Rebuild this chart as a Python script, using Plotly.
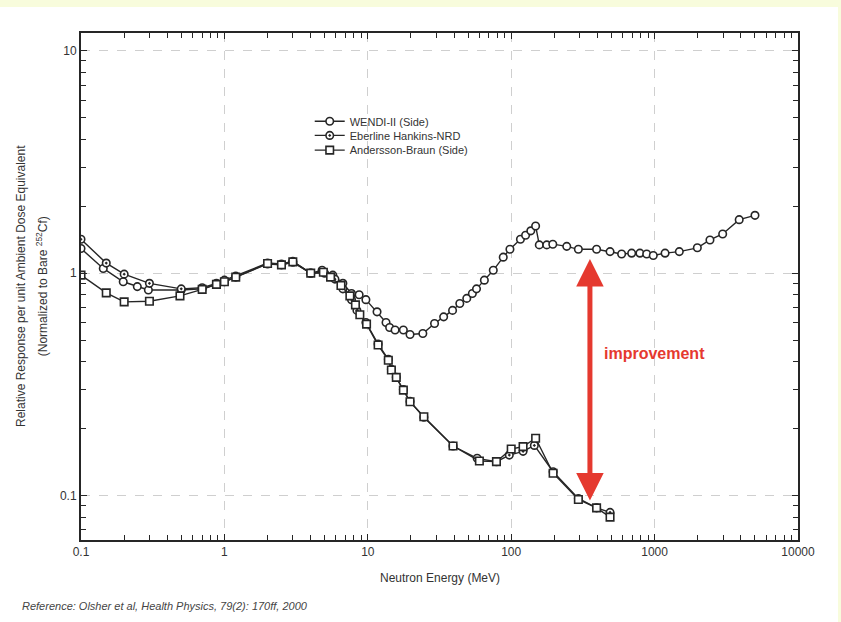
import math
import plotly.graph_objects as go

# Neutron energy (MeV) and relative response for each instrument
wendi_energy = [0.1, 0.143, 0.197, 0.247, 0.295, 0.5, 0.7, 0.88, 1.0, 1.2, 2.0, 2.5, 3.0,
                4.0, 4.8, 5.7, 6.7, 7.7, 8.7, 9.7, 11.6, 13.4, 14.2, 15.5, 17.7, 19.7,
                24.2, 29.2, 33.8, 39, 43.8, 49, 53.6, 57.3, 65, 75, 88, 98, 116, 126,
                137, 148, 157, 177, 195, 244, 294, 394, 489, 589, 692, 790, 881, 979,
                1183, 1487, 1986, 2432, 2983, 3890, 5012]
wendi_resp = [1.29, 1.05, 0.915, 0.87, 0.84, 0.84, 0.85, 0.89, 0.915, 0.96, 1.1, 1.09, 1.12,
              1.0, 1.03, 0.98, 0.90, 0.81, 0.80, 0.76, 0.67, 0.60, 0.57, 0.555, 0.555, 0.53,
              0.535, 0.594, 0.636, 0.68, 0.73, 0.77, 0.81, 0.85, 0.93, 1.03, 1.18, 1.28, 1.42, 1.48,
              1.55, 1.63, 1.34, 1.34, 1.35, 1.32, 1.28, 1.28, 1.25, 1.22, 1.23, 1.23, 1.22, 1.20,
              1.23, 1.25, 1.30, 1.41, 1.50, 1.74, 1.82]

nrd_energy = [0.1, 0.15, 0.2, 0.3, 0.5, 0.7, 0.88, 1.0, 1.2, 2.0, 2.5, 3.0, 4.0, 5.0, 5.9,
              6.7, 7.7, 8.4, 9.7, 11.8, 13.9, 14.6, 15.8, 17.7, 19.7, 24.6, 39.3, 57.9,
              78.9, 97, 121, 145, 196, 294, 394, 489]
nrd_resp = [1.42, 1.11, 0.99, 0.90, 0.85, 0.86, 0.90, 0.93, 0.97, 1.11, 1.10, 1.13, 1.0, 1.0, 0.94,
            0.85, 0.76, 0.68, 0.60, 0.48, 0.41, 0.37, 0.34, 0.30, 0.265, 0.225, 0.167, 0.147,
            0.142, 0.152, 0.158, 0.168, 0.128, 0.097, 0.088, 0.084]

ab_energy = [0.1, 0.15, 0.2, 0.3, 0.49, 0.7, 0.88, 1.0, 1.2, 2.0, 2.5, 3.0, 4.0, 4.9, 5.5,
             6.5, 7.5, 8.2, 8.8, 9.8, 11.8, 13.9, 14.6, 15.8, 17.7, 19.7, 24.6, 39.3, 60,
             78.9, 100, 121, 148, 196, 294, 394, 489]
ab_resp = [0.98, 0.815, 0.743, 0.748, 0.79, 0.845, 0.89, 0.915, 0.96, 1.105, 1.09, 1.124, 1.0, 1.01, 0.96,
           0.88, 0.79, 0.72, 0.65, 0.59, 0.475, 0.406, 0.367, 0.34, 0.298, 0.264, 0.226, 0.167, 0.143,
           0.142, 0.162, 0.166, 0.181, 0.126, 0.096, 0.088, 0.080]

x_tick_vals = [0.1, 1, 10, 100, 1000, 10000]
x_tick_text = ["0.1", "1", "10", "100", "1000", "10000"]
y_tick_vals = [0.1, 1, 10]
y_tick_text = ["0.1", "1", "10"]

# Minor tick positions (2..9 times each decade)
x_minor = [m * 10.0 ** d for d in range(-1, 4) for m in range(2, 10)]
y_minor = [m * 10.0 ** d for d in (-2, -1, 0, 1) for m in range(2, 10)]

X_RANGE = [-1, 4]
Y_RANGE = [-1.2, 1.08]

INK = "#262626"
RED = "#e5392f"
FONT = "Liberation Sans, Arial, sans-serif"

fig = go.Figure()

series = [
    ("WENDI-II (Side)", wendi_energy, wendi_resp, "circle", "legend"),
    ("Eberline Hankins-NRD", nrd_energy, nrd_resp, "circle-dot", "legend2"),
    ("Andersson-Braun (Side)", ab_energy, ab_resp, "square", "legend3"),
]
for name, xs, ys, sym, leg in series:
    fig.add_trace(go.Scatter(
        x=xs, y=ys, name=name, mode="lines+markers", legend=leg,
        line=dict(color=INK, width=1.4),
        marker=dict(symbol=sym, size=7.5, color="white", line=dict(color=INK, width=1.6)),
    ))

# Transparent companion trace so the overlay axes (minor ticks) are drawn
fig.add_trace(go.Scatter(x=wendi_energy, y=wendi_resp, xaxis="x2", yaxis="y2", mode="lines",
                         opacity=0, showlegend=False, hoverinfo="skip"))

major = dict(
    type="log", showline=True, linecolor=INK, linewidth=2, mirror="ticks",
    ticks="inside", ticklen=6, tickcolor=INK, tickwidth=1,
    showgrid=True, gridcolor="#cfcfcf", griddash="dash", gridwidth=1,
    zeroline=False, tickfont=dict(family=FONT, size=12, color="#333"),
)
minor = dict(
    type="log", showline=True, linecolor=INK, linewidth=2, mirror="ticks",
    ticks="inside", ticklen=5, tickcolor=INK, tickwidth=1,
    showgrid=False, zeroline=False, showticklabels=False,
)

legend_style = dict(bgcolor="rgba(0,0,0,0)", borderwidth=0, x=0.319, xanchor="left",
                    yanchor="middle", font=dict(family=FONT, size=11, color="#333"))

fig.update_layout(
    width=841, height=622, autosize=False,
    margin=dict(l=81, r=43, t=33, b=82),
    paper_bgcolor="white", plot_bgcolor="white",
    showlegend=True,
    xaxis=dict(range=X_RANGE, tickvals=x_tick_vals, ticktext=x_tick_text, **major),
    yaxis=dict(range=Y_RANGE, tickvals=y_tick_vals, ticktext=y_tick_text, **major),
    xaxis2=dict(range=X_RANGE, tickvals=x_minor, overlaying="x", side="bottom", **minor),
    yaxis2=dict(range=Y_RANGE, tickvals=y_minor, overlaying="y", side="left", **minor),
    legend=dict(y=0.826, **legend_style),
    legend2=dict(y=0.798, **legend_style),
    legend3=dict(y=0.769, **legend_style),
    shapes=[
        dict(type="rect", xref="paper", yref="paper", x0=-0.12, x1=1.07, y0=1.0513, y1=1.08,
             fillcolor="#f8fcdc", line=dict(width=0), layer="below"),
        dict(type="rect", xref="paper", yref="paper", x0=1.0558, x1=1.07, y0=-0.17, y1=1.08,
             fillcolor="#f8fcdc", line=dict(width=0), layer="below"),
    ],
)

# Axis titles
fig.add_annotation(text="Neutron Energy (MeV)", xref="paper", yref="paper", x=0.5, y=-0.075,
                   showarrow=False, font=dict(family=FONT, size=12, color="#333"),
                   xanchor="center", yanchor="middle")
fig.add_annotation(text="Relative Response per unit Ambient Dose Equivalent", xref="paper", yref="paper",
                   x=-0.0837, y=0.501, textangle=-90, showarrow=False,
                   font=dict(family=FONT, size=12, color="#333"), xanchor="center", yanchor="middle")
fig.add_annotation(text="(Normalized to Bare <sup>252</sup>Cf)", xref="paper", yref="paper",
                   x=-0.054, y=0.501, textangle=-90, showarrow=False,
                   font=dict(family=FONT, size=12, color="#333"), xanchor="center", yanchor="middle")

# Source note
fig.add_annotation(text="<i>Reference: Olsher et al, Health Physics, 79(2): 170ff, 2000</i>",
                   xref="paper", yref="paper", x=-0.085, y=-0.13, showarrow=False,
                   font=dict(family="Liberation Sans Narrow, " + FONT, size=11, color="#444"),
                   xanchor="left", yanchor="middle")

# Double-headed improvement arrow between WENDI-II and Andersson-Braun near 350 MeV
arrow_e = 354
fig.add_annotation(x=math.log10(arrow_e), y=math.log10(0.095), ax=math.log10(arrow_e), ay=math.log10(1.17),
                   xref="x", yref="y", axref="x", ayref="y", text=" ", showarrow=True,
                   font=dict(size=1), borderpad=0,
                   arrowhead=2, startarrowhead=2, arrowside="end+start", arrowsize=1.1,
                   startarrowsize=1.1, arrowwidth=5, arrowcolor=RED)
fig.add_annotation(text="<b>improvement</b>", x=math.log10(430), y=-0.36, xref="x", yref="y",
                   showarrow=False, xanchor="left", yanchor="middle",
                   font=dict(family=FONT, size=16, color=RED))

fig.write_html("out.html")
